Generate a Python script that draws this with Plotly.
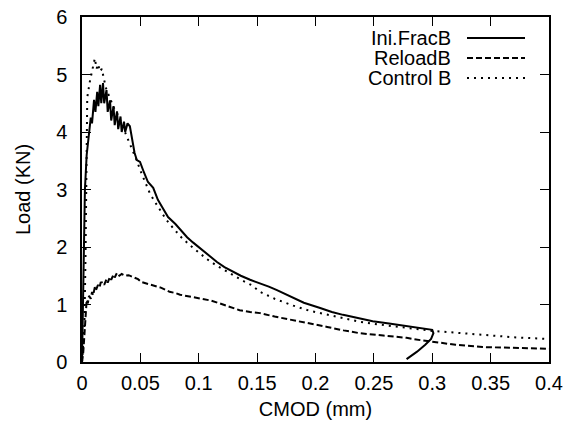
import plotly.graph_objects as go

# Ini.FracB (solid)
ini_x = [0, 0.001, 0.0015, 0.0025, 0.004, 0.006, 0.0075, 0.0086, 0.0103, 0.0115, 0.013, 0.014, 0.0155,
         0.0165, 0.018, 0.019, 0.021, 0.022, 0.024, 0.025, 0.027, 0.028, 0.030, 0.031, 0.033, 0.034,
         0.036, 0.037, 0.039, 0.041, 0.043, 0.045, 0.047,
         0.0497, 0.053, 0.0565, 0.061, 0.065, 0.0685, 0.0737, 0.08, 0.085, 0.09, 0.095, 0.101, 0.108,
         0.1156, 0.122, 0.129, 0.136, 0.144, 0.1525, 0.16, 0.167, 0.174, 0.18, 0.19, 0.204, 0.214, 0.2236,
         0.236, 0.249, 0.263, 0.278, 0.29, 0.300, 0.301, 0.299, 0.294, 0.287, 0.278]
ini_y = [0, 1.0, 2.0, 3.0, 3.6, 4.03, 4.25, 4.15, 4.56, 4.35, 4.7, 4.45, 4.82,
         4.5, 4.85, 4.5, 4.73, 4.35, 4.55, 4.2, 4.45, 4.12, 4.36, 4.05, 4.27, 4.0,
         4.18, 4.0, 4.15, 4.1, 3.88, 3.64, 3.51,
         3.48, 3.3, 3.13, 3.03, 2.82, 2.70, 2.52, 2.40, 2.28, 2.17, 2.08, 1.98, 1.86,
         1.74, 1.65, 1.57, 1.50, 1.43, 1.37, 1.31, 1.25, 1.18, 1.12, 1.03, 0.94, 0.87, 0.82,
         0.76, 0.71, 0.67, 0.63, 0.59, 0.56, 0.50, 0.40, 0.30, 0.18, 0.05]

# ReloadB (dashed)
rel_x = [0, 0.001, 0.002, 0.003, 0.004, 0.005, 0.006, 0.0075, 0.0086, 0.0095, 0.011, 0.012, 0.0137,
         0.015, 0.016, 0.018, 0.019, 0.021, 0.022, 0.024, 0.025, 0.027, 0.028, 0.030, 0.032,
         0.034, 0.037, 0.040, 0.044, 0.048, 0.051, 0.056, 0.062, 0.068, 0.075, 0.08, 0.084, 0.092, 0.101,
         0.11, 0.118, 0.127, 0.135, 0.144, 0.1525, 0.165, 0.181, 0.195, 0.21, 0.224, 0.238, 0.258,
         0.278, 0.29, 0.3006, 0.32, 0.343, 0.37, 0.4]
rel_y = [0, 0.15, 0.45, 0.8, 1.08, 1.02, 1.15, 1.1, 1.22, 1.16, 1.3, 1.25, 1.34,
         1.30, 1.38, 1.39, 1.34, 1.44, 1.38, 1.48, 1.43, 1.52, 1.47, 1.55, 1.50,
         1.53, 1.50, 1.51, 1.48, 1.44, 1.39, 1.36, 1.32, 1.29, 1.22, 1.20, 1.17, 1.14, 1.11,
         1.07, 1.02, 0.96, 0.90, 0.87, 0.85, 0.79, 0.73, 0.67, 0.61, 0.55, 0.50, 0.46,
         0.42, 0.38, 0.35, 0.30, 0.26, 0.245, 0.23]

# Control B (dotted)
ctl_x = [0, 0.002, 0.003, 0.0035, 0.004, 0.0045, 0.0069, 0.0094, 0.011, 0.0125, 0.0137, 0.0154, 0.017,
         0.019, 0.021, 0.024, 0.027, 0.030, 0.035, 0.040,
         0.043, 0.047, 0.050, 0.055, 0.058, 0.062, 0.067, 0.072, 0.078, 0.085, 0.0925, 0.100, 0.107,
         0.115, 0.124, 0.131, 0.138, 0.145, 0.1525, 0.165, 0.181, 0.195, 0.21, 0.224, 0.238, 0.255,
         0.272, 0.287, 0.3006, 0.32, 0.343, 0.37, 0.4]
ctl_y = [0, 0.6, 1.8, 3.0, 4.0, 4.6, 4.9, 5.13, 5.28, 5.1, 5.18, 5.05, 5.1,
         4.9, 4.73, 4.59, 4.43, 4.33, 4.09, 3.85,
         3.72, 3.50, 3.33, 3.08, 2.94, 2.80, 2.64, 2.48, 2.33, 2.17, 2.03, 1.90, 1.79,
         1.68, 1.57, 1.49, 1.41, 1.34, 1.22, 1.10, 0.98, 0.89, 0.82, 0.76, 0.70, 0.65,
         0.61, 0.57, 0.54, 0.51, 0.47, 0.43, 0.40]

x_ticks = [0, 0.05, 0.1, 0.15, 0.2, 0.25, 0.3, 0.35, 0.4]
x_tick_labels = ["0", "0.05", "0.1", "0.15", "0.2", "0.25", "0.3", "0.35", "0.4"]
y_ticks = [0, 1, 2, 3, 4, 5, 6]

series_names = ["Ini.FracB", "ReloadB", "Control B"]
dashes = ["solid", "6px,3px", "2px,5px"]

FONT = "Liberation Sans, Arial, Helvetica, sans-serif"
FS = 20

fig = go.Figure()
for name, xs, ys, d in zip(series_names, [ini_x, rel_x, ctl_x], [ini_y, rel_y, ctl_y], dashes):
    fig.add_trace(go.Scatter(x=xs, y=ys, mode="lines", name=name,
                             line=dict(color="black", width=2, dash=d)))

# manual legend (text left of line sample, gnuplot style)
leg_rows = [38, 58, 78]
for name, d, ry in zip(series_names, dashes, leg_rows):
    yp = 1 - (ry - 17) / 345
    fig.add_annotation(x=(453 - 82) / 467, y=yp, xref="paper", yref="paper",
                       text=name, showarrow=False, xanchor="right", yanchor="middle",
                       font=dict(size=FS, color="black", family=FONT))
    fig.add_shape(type="line", xref="paper", yref="paper",
                  x0=(467 - 82) / 467, x1=(525 - 82) / 467, y0=yp, y1=yp,
                  line=dict(color="black", width=2, dash=d))

axis_common = dict(showline=True, linecolor="black", linewidth=1.5, mirror="ticks",
                   ticks="inside", ticklen=9, tickwidth=1.2, tickcolor="black",
                   showgrid=False, zeroline=False,
                   tickfont=dict(size=FS, color="black", family=FONT))

fig.update_xaxes(range=[0, 0.4], tickvals=x_ticks, ticktext=x_tick_labels, ticklabelstandoff=2,
                 title=dict(text="CMOD (mm)", font=dict(size=FS, color="black", family=FONT), standoff=9),
                 **axis_common)
fig.update_yaxes(range=[0, 6], tickvals=y_ticks, ticklabelstandoff=9,
                 title=dict(text="Load (KN)", font=dict(size=FS, color="black", family=FONT), standoff=20),
                 **axis_common)

fig.update_layout(width=569, height=423, showlegend=False,
                  margin=dict(l=82, r=20, t=17, b=61, autoexpand=False),
                  paper_bgcolor="white", plot_bgcolor="white")

fig.write_html("out.html", config={"displayModeBar": False},
               post_script="document.body.style.margin='0';document.body.style.overflow='hidden';")
